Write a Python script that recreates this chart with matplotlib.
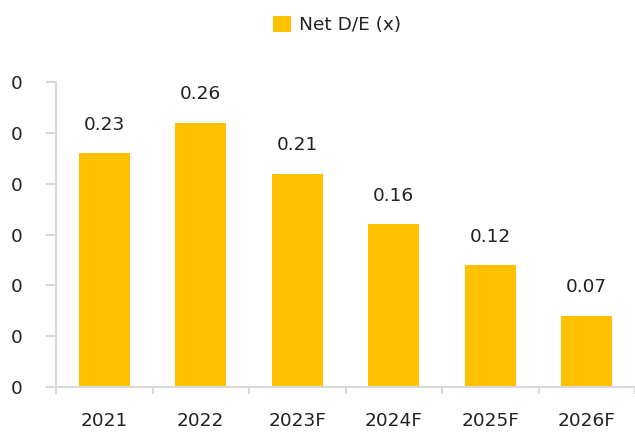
import matplotlib
matplotlib.use("Agg")
import matplotlib.pyplot as plt
from matplotlib.ticker import FormatStrFormatter, FixedLocator

categories = ["2021", "2022", "2023F", "2024F", "2025F", "2026F"]
net_de = [0.23, 0.26, 0.21, 0.16, 0.12, 0.07]
value_labels = ["0.23", "0.26", "0.21", "0.16", "0.12", "0.07"]
yticks = [0.0, 0.05, 0.10, 0.15, 0.20, 0.25, 0.30]
series_name = "Net D/E (x)"

plt.rcParams['font.family'] = ['DejaVu Sans']

fig = plt.figure(figsize=(6.35, 4.32), dpi=100)
ax = fig.add_axes([56/635, 45/432, (635-56)/635, (387-82)/432])

bar_color = "#FFC000"
x = list(range(len(categories)))
bars = ax.bar(x, net_de, width=0.53, color=bar_color, label=series_name, zorder=2)

fs = 13.3
for xi, v, lab in zip(x, net_de, value_labels):
    ax.annotate(lab, (xi, v), xytext=(0, 14), textcoords="offset points",
                ha="center", va="bottom", fontsize=fs, color="#222222")

ax.set_xlim(-0.5, len(categories) - 0.5)
ax.set_ylim(0, 0.30)
ax.set_yticks(yticks)
ax.yaxis.set_major_formatter(FormatStrFormatter('%d'))

ax.set_xticks(x)
ax.set_xticklabels(categories)
ax.xaxis.set_minor_locator(FixedLocator([i - 0.5 for i in range(len(categories) + 1)]))
ax.tick_params(axis='x', which='major', length=0, pad=18, labelsize=fs, labelcolor="#222222")
ax.tick_params(axis='x', which='minor', length=5, width=1.5, color="#D9D9D9")
ax.tick_params(axis='y', length=7, width=1.5, color="#D9D9D9", pad=17, labelsize=fs, labelcolor="#222222")

for s in ["top", "right"]:
    ax.spines[s].set_visible(False)
for s in ["left", "bottom"]:
    ax.spines[s].set_color("#D9D9D9")
    ax.spines[s].set_linewidth(1.5)

leg = fig.legend(handles=[bars], labels=[series_name], loc="center",
                 bbox_to_anchor=(337/635, 1 - 25/432), frameon=False,
                 fontsize=fs, handlelength=1.0, handleheight=1.0,
                 handletextpad=0.4)
for t in leg.get_texts():
    t.set_color("#222222")

fig.savefig("out.png", dpi=100)
